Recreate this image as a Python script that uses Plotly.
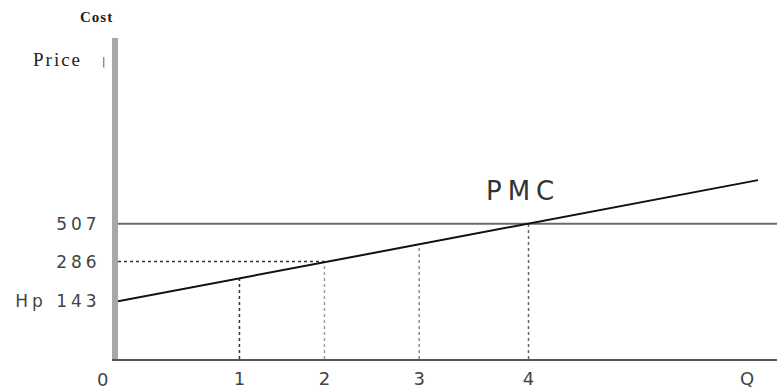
import plotly.graph_objects as go

# Quantity ticks (schematic positions along the Q axis) and labels
q_pos = [1.0, 1.70, 2.48, 3.38, 5.18]
q_labels = ["1", "2", "3", "4", "Q"]

# Price/cost levels (schematic heights) and labels
p_pos = [58, 98, 136]
p_labels = ["Hp 143", "286", "507"]

# PMC (private marginal cost) line
pmc_q = [0.0, 5.27]
pmc_y = [58, 180]

# Height of PMC above each quantity 1..4 (drop lines)
drop_q = [1.0, 1.70, 2.48, 3.38]
drop_y = [81, 98, 116, 136]
drop_colors = ["#333333", "#9a9a9a", "#8a8a8a", "#666666"]

# Price line at 507
price_level = 136
x_max = 5.426

fig = go.Figure()

fig.add_trace(go.Scatter(x=[0, x_max], y=[price_level, price_level], mode="lines",
                         line=dict(color="#6a6a6a", width=2), hoverinfo="skip"))
fig.add_trace(go.Scatter(x=[0, drop_q[1]], y=[p_pos[1], p_pos[1]], mode="lines",
                         line=dict(color="#333333", width=1.5, dash="dot"), hoverinfo="skip"))
for q, y, c in zip(drop_q, drop_y, drop_colors):
    fig.add_trace(go.Scatter(x=[q, q], y=[0, y], mode="lines",
                             line=dict(color=c, width=1.5, dash="dot"), hoverinfo="skip"))
fig.add_trace(go.Scatter(x=pmc_q, y=pmc_y, mode="lines",
                         line=dict(color="#111111", width=2), hoverinfo="skip"))

W, H = 777, 392
L, R, T, B = 118, 0, 38, 33

fig.update_layout(
    width=W, height=H,
    margin=dict(l=L, r=R, t=T, b=B),
    paper_bgcolor="white", plot_bgcolor="white",
    showlegend=False,
    xaxis=dict(range=[0, x_max], showgrid=False, zeroline=False, automargin=False,
               showline=True, linewidth=2, linecolor="#555555",
               tickmode="array", tickvals=q_pos, ticktext=q_labels,
               ticks="", tickfont=dict(family="DejaVu Sans", size=18, color="#444444"),
               ticklabelstandoff=2),
    yaxis=dict(range=[0, 323], showgrid=False, zeroline=False, automargin=False,
               showline=True, linewidth=6, linecolor="#a8a8a8",
               tickmode="array", tickvals=p_pos,
               ticktext=["<span style='letter-spacing:4px'>%s</span>" % t for t in p_labels],
               ticks="", tickfont=dict(family="DejaVu Sans", size=17, color="#444444"),
               ticklabelstandoff=8),
    annotations=[
        dict(text="<span style='letter-spacing:6px'>PMC</span>", x=523, y=191, showarrow=False,
             font=dict(family="DejaVu Sans", size=26, color="#333333")),
        dict(text="0", x=102, y=380, showarrow=False,
             font=dict(family="DejaVu Sans", size=18, color="#444444")),
        dict(text="<b><span style='letter-spacing:1px'>Cost</span></b>", x=96, y=17, showarrow=False,
             font=dict(family="Liberation Serif", size=15, color="#222222")),
        dict(text="<span style='letter-spacing:2px'>Price</span>", x=57, y=59, showarrow=False,
             font=dict(family="Liberation Serif", size=19, color="#222222")),
        dict(text="|", x=103, y=62, showarrow=False,
             font=dict(family="DejaVu Sans", size=10, color="#444444")),
    ],
)

# convert pixel-based annotation positions to paper coordinates
pw, ph = W - L - R, H - T - B
new_ann = []
for a in fig.layout.annotations:
    a = a.to_plotly_json()
    a["xref"] = "paper"; a["yref"] = "paper"
    a["x"] = (a["x"] - L) / pw
    a["y"] = (H - B - a["y"]) / ph
    a["xanchor"] = "center"; a["yanchor"] = "middle"
    new_ann.append(a)
fig.layout.annotations = new_ann

fig.write_html("out.html", config={"displayModeBar": False},
               post_script="document.body.style.margin='0';")
